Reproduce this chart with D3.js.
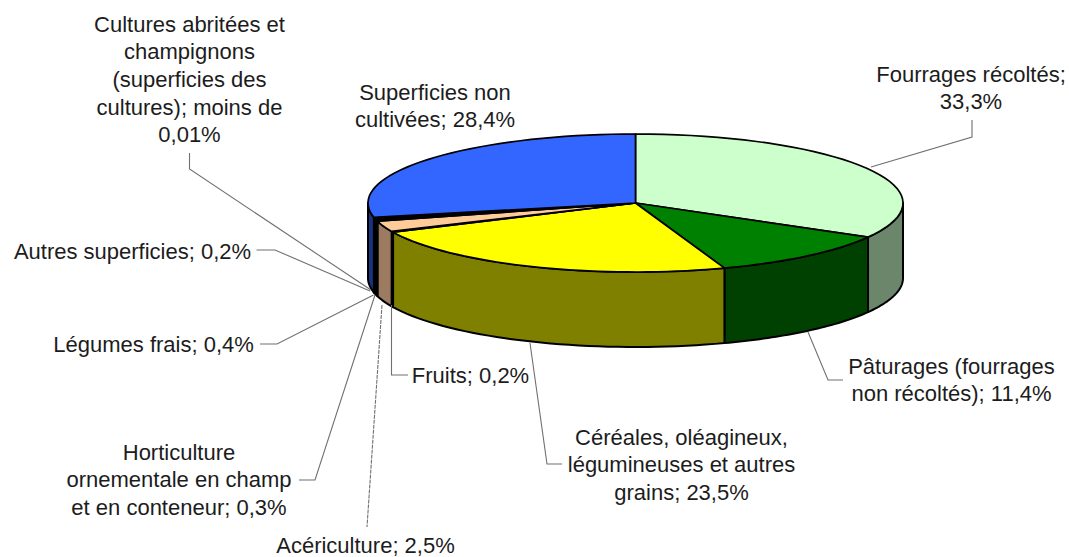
<!DOCTYPE html>
<html><head><meta charset="utf-8">
<script src="https://cdn.jsdelivr.net/npm/d3@7/dist/d3.min.js"></script>
<style>html,body{margin:0;padding:0;background:#fff}svg{display:block}text{font-family:"Liberation Sans",Arial,sans-serif;font-size:22px;fill:#1c1c1c;text-anchor:middle;dominant-baseline:central}</style>
</head><body><svg id="c" width="1069" height="557"></svg>
<script>
const categories=["Fourrages récoltés","Pâturages (fourrages non récoltés)","Céréales, oléagineux, légumineuses et autres grains","Fruits","Acériculture","Horticulture ornementale en champ et en conteneur","Légumes frais","Autres superficies","Cultures abritées et champignons (superficies des cultures)","Superficies non cultivées"];
const values=[33.3,11.4,23.5,0.2,2.5,0.3,0.4,0.2,0.01,28.4];
const topColors=["#CCFFCC","#008000","#FFFF00","#FF99CC","#FFCC99","#CCCCFF","#99CCFF","#FF9900","#C0C0C0","#3366FF"];
const sideColors=["#6B866B","#004000","#808000","#804D66","#9C7B60","#666680","#4D6680","#804D00","#606060","#1A3380"];
const labelLines=[["Fourrages récoltés;","33,3%"],["Pâturages (fourrages","non récoltés); 11,4%"],["Céréales, oléagineux,","légumineuses et autres","grains; 23,5%"],["Fruits; 0,2%"],["Acériculture; 2,5%"],["Horticulture","ornementale en champ","et en conteneur; 0,3%"],["Légumes frais; 0,4%"],["Autres superficies; 0,2%"],["Cultures abritées et","champignons","(superficies des","cultures); moins de","0,01%"],["Superficies non","cultivées; 28,4%"]];
// annotation layout: label centre and first-line y, leader polyline
const labelAnchors=[[971,74],[951.5,366],[681.5,437],[470.5,375],[365.5,545],[179,452],[153.6,344],[132.5,251],[189.5,24],[435,92]];
const leaderPaths=[[[972,120],[972,137],[871,167]],[[808,332],[828,380],[843,380]],[[530,343],[547,464],[562,464]],[[391.5,305],[391.5,375],[408,375]],[[382,305],[367,527]],[[375,295],[315,480],[299,480]],[[373.5,295],[277,344],[260,344]],[[370,291],[275,250],[256.5,250]],[[371,290],[189.5,169],[189.5,153]],[]];
const leaderDash=[null,null,null,null,"4 1",null,null,null,null,null];

const svg=d3.select("#c");
const cx=635.5,cy=203,rx=267.5,ry=69,depth=75,lineH=27.7;
const sx=d3.scaleLinear().domain([-1,1]).range([cx-rx,cx+rx]);
const sy=d3.scaleLinear().domain([-1,1]).range([cy-ry,cy+ry]);
const arcs=d3.pie().sort(null).value(d=>d)(values);
const pt=(a,dz=0)=>[sx(Math.sin(a)),sy(-Math.cos(a))+dz];
const samples=(a0,a1)=>d3.range(0,41).map(i=>a0+(a1-a0)*i/40);
const line=d3.line();
const H=Math.PI/2, TH=3*Math.PI/2;

// side walls (visible front half only)
const walls=svg.append("g");
arcs.map((d,i)=>({a0:Math.max(d.startAngle,H),a1:Math.min(d.endAngle,TH),i}))
  .filter(d=>d.a1>d.a0)
  .forEach(d=>{
    const s=samples(d.a0,d.a1);
    const p=s.map(a=>pt(a)).concat(s.slice().reverse().map(a=>pt(a,depth)));
    walls.append("path").attr("d",line(p)+"Z").attr("fill",sideColors[d.i])
      .attr("stroke","#000").attr("stroke-width",2).attr("stroke-linejoin","round");
  });

// top face
const tops=svg.append("g");
arcs.forEach((d,i)=>{
  const s=samples(d.startAngle,d.endAngle);
  const p=[[cx,cy]].concat(s.map(a=>pt(a)));
  tops.append("path").attr("d",line(p)+"Z").attr("fill",topColors[i])
    .attr("stroke","#000").attr("stroke-width",1.7).attr("stroke-linejoin","round");
});

// leaders
svg.append("g").selectAll("path").data(leaderPaths.map((p,i)=>({p,dash:leaderDash[i]})).filter(d=>d.p.length)).join("path")
  .attr("d",d=>line(d.p)).attr("fill","none").attr("stroke","#707070").attr("stroke-width",1.1)
  .attr("stroke-dasharray",d=>d.dash);

// labels
const lg=svg.append("g");
labelLines.forEach((ls,i)=>{
  const [x,y]=labelAnchors[i];
  ls.forEach((t,j)=>lg.append("text").attr("x",x).attr("y",y+j*lineH).text(t));
});
</script></body></html>
